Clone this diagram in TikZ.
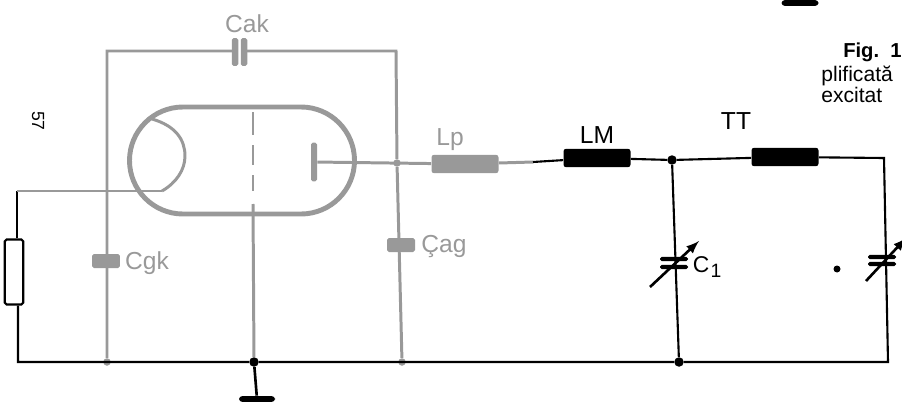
\documentclass[tikz,border=0pt]{standalone}
\usepackage{fontspec}
\setmainfont{Liberation Sans}
\usetikzlibrary{calc}

\definecolor{faded}{gray}{0.6}

\tikzset{
  wire/.style = {line width=1.2pt, black},
  gwire/.style = {line width=1.7pt, faded},
  coil/.style = {shape=rectangle, rounded corners=1.5pt, fill=black, inner sep=0pt,
    minimum width=1.34cm, minimum height=0.37cm},
  plate/.style = {shape=rectangle, rounded corners=1pt, fill=black, inner sep=0pt,
    minimum width=0.56cm, minimum height=0.085cm},
  gplate/.style = {plate, fill=faded, minimum height=0.13cm},
  dot/.style = {shape=circle, fill=black, inner sep=0pt, minimum size=0.19cm},
  gdot/.style = {dot, fill=faded, minimum size=0.15cm},
  earth/.style = {shape=rectangle, rounded corners=2pt, fill=black, inner sep=0pt,
    minimum width=0.72cm, minimum height=0.12cm},
  gtext/.style = {text=faded, font=\fontsize{14}{14}\selectfont, inner sep=0pt},
  btext/.style = {text=black, font=\fontsize{14}{14}\selectfont, inner sep=0pt}
}

\begin{document}
\begin{tikzpicture}[x=0.02cm, y=-0.02cm]
  \useasboundingbox (0,0) rectangle (902,402);

  % faded part
  \coordinate (tl) at (107,51);
  \coordinate (tr) at (396,51);
  \node[gdot] (gk) at (107,362) {};
  \node[gdot] (ag) at (402,362) {};
  \node[gdot] (ja) at (397,163) {};
  \draw[gwire] (gk) -- (tl) -- (tr) -- (ja) -- (ag);
  \node[fill=white, inner sep=0pt, minimum width=0.18cm, minimum height=0.6cm] at (240,51) {};
  \node[gplate, rotate=90] (cak1) at (235,52) {};
  \node[gplate, rotate=90] (cak2) at (244,52) {};
  \node[gplate, minimum height=0.28cm] (cgk) at (106,261) {};
  \node[gplate, minimum height=0.28cm] (cag) at (401,245) {};
  \node[gtext] (lcak) at (247,24) {Cak};
  \node[gtext] (lcgk) at (147,263) {Cgk};
  \node[gtext] (lcag) at (444,247) {Çag};
  \node[gtext] (llp) at (450,140) {Lp};

  % tube
  \draw[faded, line width=2.8pt] (183,107) -- (301,107)
    arc[start angle=-90, end angle=90, radius=53.5] -- (183,214)
    arc[start angle=90, end angle=270, radius=53.5] -- cycle;
  \coordinate (ks) at (152,119);
  \coordinate (ke) at (162,191);
  \draw[gwire] (ks) .. controls (176,126) and (185,140) .. (185,156)
    .. controls (185,170) and (176,183) .. (ke);
  \draw[gwire] (253,112) -- (253,135);
  \draw[gwire] (253,145) -- (253,165);
  \draw[gwire] (253,175) -- (253,191);
  \node[shape=rectangle, rounded corners=1pt, fill=faded, inner sep=0pt,
    minimum width=0.12cm, minimum height=0.78cm] (anode) at (314,162) {};
  \node[coil, fill=faded] (lp) at (465,164) {};
  \draw[gwire] (anode) -- (lp);
  \coordinate (gridtop) at (253,204);

  % black part
  \node[coil] (lm) at (597,158) {};
  \node[coil] (pi) at (785,157) {};
  \node[dot] (n1) at (672,160) {};
  \node[dot] (n2) at (679,362) {};
  \node[dot] (n3) at (254,362) {};
  \coordinate (mid) at (533,162);
  \coordinate (rt) at (884,158);
  \coordinate (rb) at (888,362);
  \coordinate (lb) at (18,362);
  \coordinate (lt) at (17,191);
  \node[draw, line width=1.2pt, rounded corners=1pt, inner sep=0pt,
    minimum width=0.37cm, minimum height=1.3cm] (res) at (14,272) {};
  \draw[gwire] (lp) -- (mid);
  \draw[wire] (mid) -- (lm);
  \draw[wire] (lm) -- (n1) -- (pi) -- (rt) -- (rb) -- (n2) -- (n3) -- (lb) -- (res.south -| lb);
  \draw[wire] (n1) -- (n2);
  \draw[wire] (res.north -| lt) -- (lt);
  \draw[gwire] (lt) -- (ke);
  \draw[gwire] (gridtop) -- (n3);

  % ground
  \node[earth] (gnd) at (257,399) {};
  \node[earth, minimum width=0.74cm] (gndtop) at (800,3) {};
  \draw[line width=1.5pt] (n3) -- (gnd);

  % tuning capacitors
  \node[plate] (c1a) at (674,259) {};
  \node[plate] (c1b) at (674,267) {};
  \node[plate] (c2a) at (882,257) {};
  \node[plate] (c2b) at (882,264) {};
  \coordinate (a1) at (650,287);
  \coordinate (b1) at (699,241);
  \coordinate (a2) at (866,281);
  \coordinate (b2) at (906,238);
  \draw[line width=1.5pt, -latex] (a1) -- (b1);
  \draw[line width=1.5pt, -latex] (a2) -- (b2);
  \node[dot, minimum size=0.14cm] (speck) at (837,269) {};

  % labels
  \node[btext] (llm) at (597,135) {LM};
  \node[btext] (lpi) at (736,121) {TT};
  \node[btext, font=\fontsize{13}{13}\selectfont] (lc1) at (701,265) {C};
  \node[btext, font=\fontsize{11}{11}\selectfont] (lc1i) at (716,271) {1};
  \node[inner sep=0pt, rotate=-90, font=\fontsize{10}{10}\selectfont] (num) at (38,121) {57};
  \node[inner sep=0pt, anchor=east, font=\fontsize{11.5}{11.5}\selectfont\bfseries] (fig) at (902,52) {Fig.~~1};
  \node[inner sep=0pt, anchor=west, font=\fontsize{12}{12}\selectfont] (l1) at (821,76) {plificată};
  \node[inner sep=0pt, anchor=west, font=\fontsize{12}{12}\selectfont] (l2) at (821,95) {excitat};
\end{tikzpicture}
\end{document}
